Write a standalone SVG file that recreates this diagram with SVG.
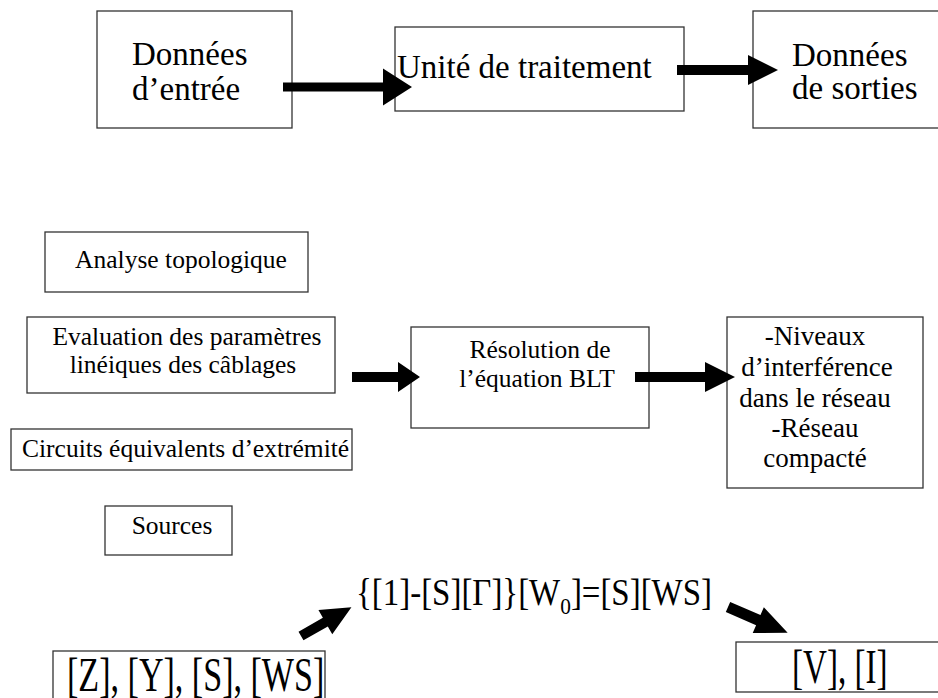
<svg xmlns="http://www.w3.org/2000/svg" width="938" height="698" viewBox="0 0 938 698">
<style>
.box{fill:#fff;stroke:#333;stroke-width:1.3}
.big{font-size:33px}
.mid{font-size:25.5px}
.res{font-size:27px}
.cond{font-size:48px}
.form{font-size:37px}
.arr{fill:#000}
</style>
<rect width="938" height="698" fill="#fff"/>
<g font-family="Liberation Serif, Times New Roman, serif" fill="#000">
<g id="n-entree">
<rect class="box" x="97" y="11" width="195" height="117"/>
<text class="big" x="132" y="65">Données</text>
<text class="big" x="132" y="100">d’entrée</text>
</g>
<g id="n-traitement">
<rect class="box" x="395" y="27" width="289" height="84"/>
<text class="big" x="397" y="78">Unité de traitement</text>
</g>
<g id="n-sorties">
<rect class="box" x="753" y="11" width="200" height="117"/>
<text class="big" x="792" y="66">Données</text>
<text class="big" x="792" y="99">de sorties</text>
</g>
<g id="n-analyse">
<rect class="box" x="45" y="232" width="263" height="60"/>
<text class="mid" x="181" y="268" text-anchor="middle">Analyse topologique</text>
</g>
<g id="n-evaluation">
<rect class="box" x="27" y="317" width="308" height="76"/>
<text class="mid" x="187" y="345" text-anchor="middle">Evaluation des paramètres</text>
<text class="mid" x="183" y="373" text-anchor="middle">linéiques des câblages</text>
</g>
<g id="n-circuits">
<rect class="box" x="11" y="429" width="341" height="41"/>
<text class="mid" x="22" y="457">Circuits équivalents d’extrémité</text>
</g>
<g id="n-sources">
<rect class="box" x="105" y="506" width="127" height="49"/>
<text class="mid" x="172" y="534" text-anchor="middle">Sources</text>
</g>
<g id="n-resolution">
<rect class="box" x="411" y="327" width="238" height="101"/>
<text class="mid" x="540" y="358" text-anchor="middle">Résolution de</text>
<text class="mid" x="537" y="387" text-anchor="middle">l’équation BLT</text>
</g>
<g id="n-resultats">
<rect class="box" x="727" y="317" width="196" height="171"/>
<text class="res" text-anchor="middle" x="815" y="345">-Niveaux</text>
<text class="res" text-anchor="middle" x="817" y="376">d’interférence</text>
<text class="res" text-anchor="middle" x="815" y="407">dans le réseau</text>
<text class="res" text-anchor="middle" x="815" y="437">-Réseau</text>
<text class="res" text-anchor="middle" x="815" y="467">compacté</text>
</g>
<g id="n-zysws">
<rect class="box" x="53" y="651" width="272" height="60"/>
<text class="cond" transform="translate(67,691) scale(0.71,1)">[Z], [Y], [S], [WS]</text>
</g>
<g id="n-formule">
<text class="form" transform="translate(356,605) scale(0.89,1)">{[1]-[S][Γ]}[W<tspan font-size="24" dy="9">0</tspan><tspan dy="-9">]=[S][WS]</tspan></text>
</g>
<g id="n-vi">
<rect class="box" x="736" y="642" width="210" height="50"/>
<text class="cond" transform="translate(792,683) scale(0.69,1)">[V], [I]</text>
</g>
</g>
<g id="connectors" class="arr">
<polygon transform="translate(283,87)" points="0,-4.5 100,-4.5 100,-18.5 129,0 100,18.5 100,4.5 0,4.5"/>
<polygon transform="translate(677,70)" points="0,-5 71,-5 71,-15 101,0 71,15 71,5 0,5"/>
<polygon transform="translate(352,377)" points="0,-5 46,-5 46,-15 68,0 46,15 46,5 0,5"/>
<polygon transform="translate(635,377)" points="0,-5 70,-5 70,-15 100,0 70,15 70,5 0,5"/>
<polygon transform="translate(301,636) rotate(-29.6)" points="0,-5 28,-5 28,-14 58,0 28,14 28,5 0,5"/>
<polygon transform="translate(728,607) rotate(23.4)" points="0,-5.5 33,-5.5 33,-14 65,0 33,14 33,5.5 0,5.5"/>
</g>
</svg>
